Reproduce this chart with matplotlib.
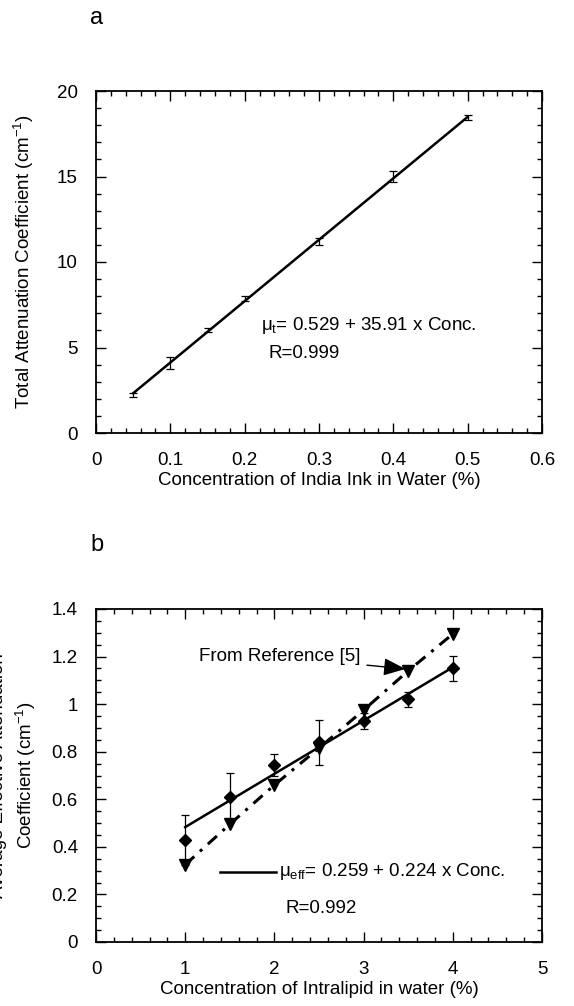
import numpy as np
import matplotlib
matplotlib.use('Agg')
import matplotlib.pyplot as plt
from matplotlib.ticker import MultipleLocator

plt.rcParams['font.family'] = ['Liberation Sans', 'DejaVu Sans']
plt.rcParams['mathtext.fontset'] = 'custom'
plt.rcParams['mathtext.rm'] = 'Liberation Sans'
plt.rcParams['mathtext.it'] = 'Liberation Sans'

# panel a - India ink
ink_conc = [0.05, 0.1, 0.15, 0.2, 0.3, 0.4, 0.5]
ink_mu = [2.2, 4.1, 6.0, 7.85, 11.2, 15.0, 18.45]
ink_err = [0.12, 0.33, 0.12, 0.15, 0.2, 0.3, 0.15]
ink_b0, ink_b1 = 0.529, 35.91

# panel b - Intralipid
lip_conc = [1, 1.5, 2, 2.5, 3, 3.5, 4]
lip_mu = [0.43, 0.61, 0.745, 0.84, 0.93, 1.02, 1.15]
lip_err = [0.105, 0.1, 0.045, 0.095, 0.033, 0.033, 0.052]
ref_mu = [0.325, 0.495, 0.66, 0.815, 0.975, 1.14, 1.295]
lip_b0, lip_b1 = 0.259, 0.224

FS = 13.5
fig = plt.figure(figsize=(5.74, 10.06), dpi=100)


def style(ax):
    ax.tick_params(which='both', direction='in', top=True, right=True, labelsize=FS, width=1)
    ax.tick_params(which='major', length=7)
    ax.tick_params(which='minor', length=3.5)
    for s in ax.spines.values():
        s.set_linewidth(1.3)
    ax.tick_params(axis='x', pad=14)
    ax.tick_params(axis='y', pad=13)
    ax.yaxis.set_major_formatter(plt.FuncFormatter(lambda v, p: '%g' % round(v, 2)))
    ax.xaxis.set_major_formatter(plt.FuncFormatter(lambda v, p: '%g' % round(v, 2)))


ax1 = fig.add_axes([96 / 574, 1 - 433 / 1006, 446 / 574, 342 / 1006])
xf = np.array([ink_conc[0], ink_conc[-1]])
ax1.plot(xf, ink_b0 + ink_b1 * xf, color='black', lw=1.8)
ax1.errorbar(ink_conc, ink_mu, yerr=ink_err, fmt='none', ecolor='black', elinewidth=0.9, capsize=3, capthick=0.9)
ax1.set_xlim(0, 0.6)
ax1.set_ylim(0, 20)
ax1.xaxis.set_major_locator(MultipleLocator(0.1))
ax1.xaxis.set_minor_locator(MultipleLocator(0.02))
ax1.yaxis.set_major_locator(MultipleLocator(5))
ax1.yaxis.set_minor_locator(MultipleLocator(1))
style(ax1)
ax1.set_xlabel('Concentration of India Ink in Water (%)', fontsize=FS, labelpad=1.5)
ax1.set_ylabel('Total Attenuation Coefficient (cm$^{-1}$)', fontsize=FS)
ax1.yaxis.set_label_coords(-0.135, 0.5)
ax1.text(0.222, 6.3, r'$\mu_t$= 0.529 + 35.91 x Conc.', fontsize=FS, va='center')
ax1.text(0.232, 4.65, 'R=0.999', fontsize=FS, va='center')
fig.text(97 / 574, 1 - 18 / 1006, 'a', fontsize=17, ha='center', va='center')

ax2 = fig.add_axes([96 / 574, 1 - 942 / 1006, 446 / 574, 333 / 1006])
xf2 = np.array([lip_conc[0], lip_conc[-1]])
ax2.plot(xf2, lip_b0 + lip_b1 * xf2, color='black', lw=1.8)
ax2.errorbar(lip_conc, lip_mu, yerr=lip_err, fmt='none', ecolor='black', elinewidth=0.9, capsize=3, capthick=0.9)
ax2.plot(lip_conc, lip_mu, 'D', color='black', ms=6.5)
ax2.plot(lip_conc, ref_mu, color='black', lw=2.2, dashes=[4, 2.5, 1, 2.5])
ax2.plot(lip_conc, ref_mu, 'v', color='black', ms=8)
ax2.set_xlim(0, 5)
ax2.set_ylim(0, 1.4)
ax2.xaxis.set_major_locator(MultipleLocator(1))
ax2.xaxis.set_minor_locator(MultipleLocator(0.2))
ax2.yaxis.set_major_locator(MultipleLocator(0.2))
ax2.yaxis.set_minor_locator(MultipleLocator(0.05))
style(ax2)
ax2.set_xlabel('Concentration of Intralipid in water (%)', fontsize=FS, labelpad=1.5)
ax2.set_ylabel('Average Effective Attenuation\nCoefficient (cm$^{-1}$)', fontsize=FS, linespacing=1.4)
ax2.yaxis.set_label_coords(-0.13, 0.5)
ax2.annotate('From Reference [5]', xy=(3.47, 1.148), xytext=(1.15, 1.2), fontsize=FS, va='center',
             arrowprops=dict(arrowstyle='-|>,head_length=1.0,head_width=0.4', color='black', lw=1,
                             shrinkA=3, shrinkB=0))
ax2.plot([1.39, 2.02], [0.295, 0.295], color='black', lw=1.8)
ax2.text(2.05, 0.295, r'$\mu_{eff}$= 0.259 + 0.224 x Conc.', fontsize=FS, va='center')
ax2.text(2.12, 0.14, 'R=0.992', fontsize=FS, va='center')
fig.text(97 / 574, 1 - 545 / 1006, 'b', fontsize=17, ha='center', va='center')

fig.savefig('out.png', dpi=100)
